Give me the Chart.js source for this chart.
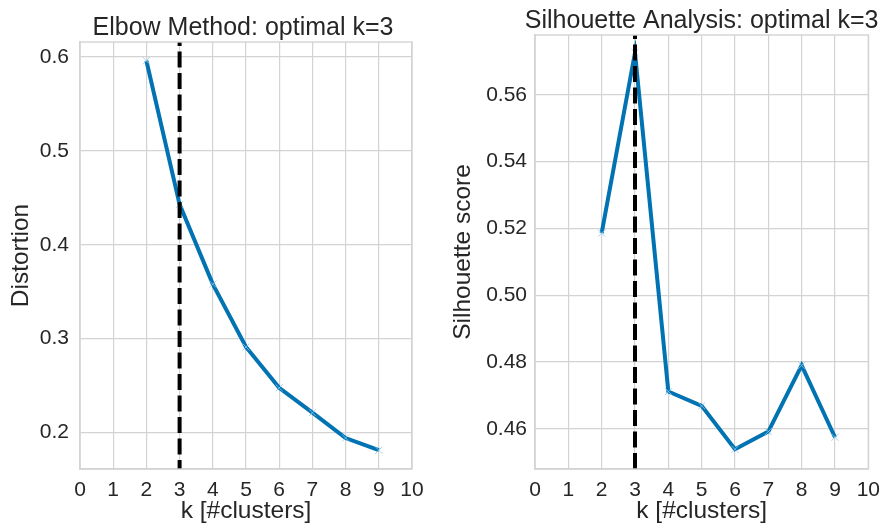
<!DOCTYPE html>
<html>
<head>
<meta charset="utf-8">
<script src="https://cdn.jsdelivr.net/npm/chart.js@4/dist/chart.umd.min.js"></script>
<style>
  html, body { margin: 0; padding: 0; background: #ffffff; }
  .box { position: absolute; top: 0; height: 531px; }
  #b1 { left: 0; width: 445px; }
  #b2 { left: 445px; width: 444px; }
</style>
</head>
<body>
<div class="box" id="b1"><canvas id="c1"></canvas></div>
<div class="box" id="b2"><canvas id="c2"></canvas></div>
<script>
// ---- data ----
const kValues = [2, 3, 4, 5, 6, 7, 8, 9];
const distortion = [0.596, 0.443, 0.358, 0.291, 0.2475, 0.221, 0.194, 0.181];
const silhouette = [0.5186, 0.5726, 0.4712, 0.4669, 0.4539, 0.4592, 0.479, 0.4575];
const optimalK = 3;
const xTicks = [0, 1, 2, 3, 4, 5, 6, 7, 8, 9, 10];
const elbowYTicks = [0.2, 0.3, 0.4, 0.5, 0.6];
const silYTicks = [0.46, 0.48, 0.50, 0.52, 0.54, 0.56];

const FONT = "'Liberation Sans', Arial, sans-serif";
const TEXT = '#262626';
const GRID = '#d3d3d3';
const LINE = '#0173b2';

const vlinePlugin = {
  id: 'vline',
  afterDatasetsDraw(chart, args, opts) {
    const ctx = chart.ctx;
    const x = chart.scales.x.getPixelForValue(opts.value);
    const a = chart.chartArea;
    ctx.save();
    ctx.beginPath();
    ctx.rect(a.left, a.top, a.right - a.left, a.bottom - a.top);
    ctx.clip();
    ctx.strokeStyle = '#000000';
    ctx.lineWidth = 4;
    ctx.setLineDash([16, 5.5]);
    ctx.lineDashOffset = 12;
    ctx.beginPath();
    ctx.moveTo(x, a.top);
    ctx.lineTo(x, a.bottom);
    ctx.stroke();
    ctx.restore();
  }
};

const titlePlugin = {
  id: 'plotTitle',
  afterDraw(chart, args, opts) {
    const ctx = chart.ctx;
    const a = chart.chartArea;
    ctx.save();
    ctx.fillStyle = TEXT;
    ctx.font = '25px ' + FONT;
    ctx.textAlign = 'center';
    ctx.textBaseline = 'alphabetic';
    ctx.fillText(opts.text, (a.left + a.right) / 2 + opts.dx, opts.baseline);
    ctx.restore();
  }
};

function makeChart(id, values, title, yLabel, yMin, yMax, yTicks, cfg) {
  const points = kValues.map((k, i) => ({ x: k, y: values[i] }));
  return new Chart(document.getElementById(id), {
    type: 'line',
    data: {
      datasets: [{
        data: points,
        borderColor: LINE,
        borderWidth: 4,
        borderJoinStyle: 'miter',
        pointStyle: 'crossRot',
        pointRadius: 5,
        pointBorderWidth: 1,
        pointBorderColor: 'rgba(140,200,235,0.8)',
        pointBackgroundColor: 'rgba(140,200,235,0.8)',
        pointHoverRadius: 5,
        tension: 0,
        fill: false
      }]
    },
    options: {
      responsive: true,
      maintainAspectRatio: false,
      animation: false,
      events: [],
      layout: { padding: { left: 0, right: cfg.padRight, top: cfg.padTop, bottom: 0 } },
      plugins: {
        legend: { display: false },
        tooltip: { enabled: false },
        title: { display: false },
        plotTitle: { text: title, baseline: cfg.titleBaseline, dx: cfg.titleDx },
        vline: { value: optimalK }
      },
      scales: {
        x: {
          type: 'linear',
          min: 0, max: 10,
          afterBuildTicks: s => { s.ticks = xTicks.map(v => ({ value: v })); },
          afterFit: s => { s.height = 62; },
          ticks: { color: TEXT, font: { family: FONT, size: 21 }, padding: 9, maxRotation: 0, autoSkip: false,
                   callback: v => String(v) },
          grid: { color: GRID, lineWidth: 1.2, drawTicks: false },
          border: { color: GRID, width: 1.4 },
          title: { display: true, text: 'k [#clusters]', color: TEXT,
                   font: { family: FONT, size: 24.5 }, padding: { top: 0, bottom: 5 } }
        },
        y: {
          type: 'linear',
          min: yMin, max: yMax,
          afterBuildTicks: s => { s.ticks = yTicks.map(v => ({ value: v })); },
          afterFit: s => { s.width = cfg.yWidth; },
          ticks: { color: TEXT, font: { family: FONT, size: 21 }, padding: cfg.yTickPad, autoSkip: false,
                   callback: v => cfg.fmt(v) },
          grid: { color: GRID, lineWidth: 1.2, drawTicks: false },
          border: { color: GRID, width: 1.4 },
          title: { display: true, text: yLabel, color: TEXT,
                   font: { family: FONT, size: 24.5 }, padding: { top: cfg.yTitleTop, bottom: 0 } }
        }
      }
    },
    plugins: [vlinePlugin, titlePlugin, {
      id: 'frame',
      afterDraw(chart) {
        const a = chart.chartArea, ctx = chart.ctx;
        ctx.save();
        ctx.strokeStyle = GRID;
        ctx.lineWidth = 1.4;
        ctx.strokeRect(a.left, a.top, a.right - a.left, a.bottom - a.top);
        ctx.restore();
      }
    }]
  });
}

makeChart('c1', distortion, 'Elbow Method: optimal k=3', 'Distortion', 0.161, 0.616, elbowYTicks,
  { padRight: 33, padTop: 42, titleBaseline: 34.5, titleDx: -3, yWidth: 80, yTickPad: 11, yTitleTop: 7,
    fmt: v => v.toFixed(1) });
makeChart('c2', silhouette, 'Silhouette Analysis: optimal k=3', 'Silhouette score', 0.448, 0.5779, silYTicks,
  { padRight: 14, padTop: 35, titleBaseline: 27.5, titleDx: 0, yWidth: 90, yTickPad: 8, yTitleTop: 4,
    fmt: v => v.toFixed(2) });
</script>
</body>
</html>
